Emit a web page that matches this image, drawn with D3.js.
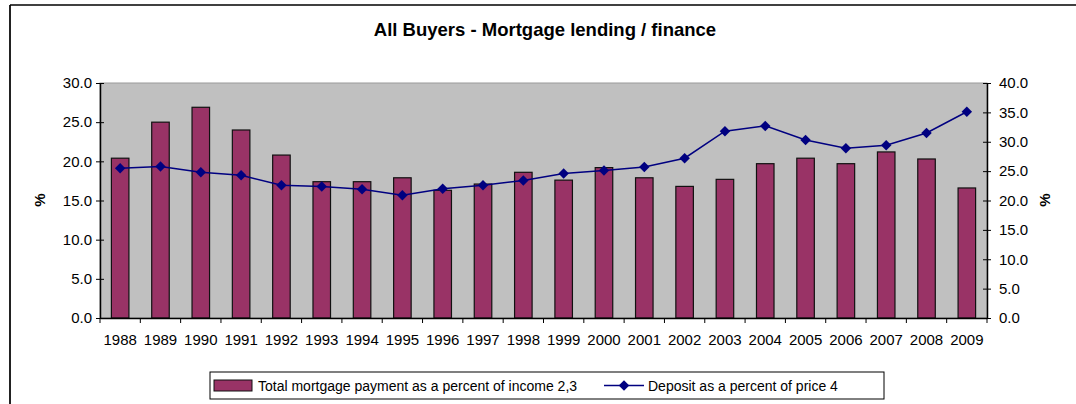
<!DOCTYPE html>
<html>
<head>
<meta charset="utf-8">
<script src="https://cdn.jsdelivr.net/npm/d3@7"></script>
<style>
  body { margin: 0; background: #fff; }
  svg { display: block; font-family: "Liberation Sans", Arial, sans-serif; }
</style>
</head>
<body>
<svg></svg>
<script>
const width = 1076;
const height = 404;

const years = ['1988','1989','1990','1991','1992','1993','1994','1995','1996','1997','1998',
  '1999','2000','2001','2002','2003','2004','2005','2006','2007','2008','2009'];
const mortgagePayment = [20.4, 25.0, 26.9, 24.0, 20.8, 17.4, 17.4, 17.9, 16.3, 17.1, 18.6,
  17.6, 19.2, 17.9, 16.8, 17.7, 19.7, 20.4, 19.7, 21.2, 20.3, 16.6];
const depositPercent = [25.5, 25.8, 24.8, 24.3, 22.6, 22.4, 21.9, 20.9, 22.0, 22.6, 23.4,
  24.6, 25.1, 25.7, 27.2, 31.8, 32.7, 30.3, 28.9, 29.4, 31.5, 35.1];
const leftTicks = [0, 5, 10, 15, 20, 25, 30];
const rightTicks = [0, 5, 10, 15, 20, 25, 30, 35, 40];

const plot = { left: 100, right: 987, top: 83, bottom: 318 };

const svg = d3.select('svg')
  .attr('width', width)
  .attr('height', height);

// outer chart border (left + top visible)
svg.append('line')
  .attr('x1', 10).attr('x2', 10).attr('y1', 5).attr('y2', height)
  .attr('stroke', '#222').attr('stroke-width', 2);
svg.append('line')
  .attr('x1', 10).attr('x2', width).attr('y1', 5).attr('y2', 5)
  .attr('stroke', '#000').attr('stroke-width', 1.5);

// title
svg.append('text')
  .text('All Buyers - Mortgage lending / finance')
  .attr('x', 545)
  .attr('y', 36)
  .attr('text-anchor', 'middle')
  .attr('font-size', '18.5px')
  .attr('font-weight', 'bold');

const xScale = d3.scaleBand()
  .domain(years)
  .range([plot.left, plot.right]);

const yLeft = d3.scaleLinear()
  .domain([0, 30])
  .range([plot.bottom, plot.top]);

const yRight = d3.scaleLinear()
  .domain([0, 40])
  .range([plot.bottom, plot.top]);

// plot area
svg.append('rect')
  .attr('x', plot.left)
  .attr('y', plot.top)
  .attr('width', plot.right - plot.left)
  .attr('height', plot.bottom - plot.top)
  .attr('fill', '#c0c0c0')
  .attr('stroke', '#999')
  .attr('stroke-width', 1);

// bars
const barW = xScale.bandwidth() / 2.3;
svg.selectAll('rect.bar')
  .data(years)
  .enter()
  .append('rect')
  .attr('class', 'bar')
  .attr('x', d => xScale(d) + (xScale.bandwidth() - barW) / 2)
  .attr('y', (d, i) => yLeft(mortgagePayment[i]))
  .attr('width', barW)
  .attr('height', (d, i) => plot.bottom - yLeft(mortgagePayment[i]))
  .attr('fill', '#993366')
  .attr('stroke', '#111')
  .attr('stroke-width', 1.2);

// line
const line = d3.line()
  .x((d, i) => xScale(years[i]) + xScale.bandwidth() / 2)
  .y(d => yRight(d));

svg.append('path')
  .datum(depositPercent)
  .attr('d', line)
  .attr('fill', 'none')
  .attr('stroke', '#000080')
  .attr('stroke-width', 1.5);

const diamond = d3.symbol().type(d3.symbolDiamond2).size(70);
svg.selectAll('path.marker')
  .data(depositPercent)
  .enter()
  .append('path')
  .attr('class', 'marker')
  .attr('d', diamond)
  .attr('transform', (d, i) => `translate(${xScale(years[i]) + xScale.bandwidth() / 2}, ${yRight(d)})`)
  .attr('fill', '#000080');

// ====================================
// Axes
// ====================================
const fmt = d3.format('.1f');

const leftAxis = svg.append('g')
  .attr('transform', `translate(${plot.left}, 0)`)
  .call(d3.axisLeft(yLeft).tickValues(leftTicks).tickFormat(fmt).tickSize(4).tickSizeOuter(0));
leftAxis.selectAll('.tick line').attr('x2', 4).attr('x1', -4);

const rightAxis = svg.append('g')
  .attr('transform', `translate(${plot.right}, 0)`)
  .call(d3.axisRight(yRight).tickValues(rightTicks).tickFormat(fmt).tickSize(4).tickSizeOuter(0));
rightAxis.selectAll('.tick line').attr('x1', -4).attr('x2', 4);

const xAxis = svg.append('g')
  .attr('transform', `translate(0, ${plot.bottom})`)
  .call(d3.axisBottom(xScale).tickSize(0).tickPadding(16));

// boundary tick marks between categories
xAxis.selectAll('line.sep')
  .data(years.concat(['end']))
  .enter()
  .append('line')
  .attr('class', 'sep')
  .attr('x1', (d, i) => i < years.length ? xScale(d) : plot.right)
  .attr('x2', (d, i) => i < years.length ? xScale(d) : plot.right)
  .attr('y1', 0)
  .attr('y2', 5)
  .attr('stroke', '#000');

[leftAxis, rightAxis, xAxis].forEach(g => {
  g.select('.domain').attr('stroke', '#000').attr('stroke-width', 1.5);
  g.selectAll('.tick line').attr('stroke', '#000');
  g.selectAll('text')
    .attr('font-size', '15px')
    .attr('font-family', '"Liberation Sans", Arial, sans-serif')
    .attr('fill', '#000');
});
leftAxis.selectAll('text').attr('x', -8);
rightAxis.selectAll('text').attr('x', 12);

// axis titles
svg.append('text')
  .text('%')
  .attr('transform', 'translate(45, 200) rotate(-90)')
  .attr('text-anchor', 'middle')
  .attr('font-size', '15px')
  .attr('font-weight', 'bold');

svg.append('text')
  .text('%')
  .attr('transform', 'translate(1050, 200) rotate(-90)')
  .attr('text-anchor', 'middle')
  .attr('font-size', '15px')
  .attr('font-weight', 'bold');

// ====================================
// Legend
// ====================================
const legend = svg.append('g');
legend.append('rect')
  .attr('x', 210).attr('y', 372)
  .attr('width', 674).attr('height', 27)
  .attr('fill', '#fff')
  .attr('stroke', '#000')
  .attr('stroke-width', 1);

legend.append('rect')
  .attr('x', 214).attr('y', 380)
  .attr('width', 38).attr('height', 11)
  .attr('fill', '#993366')
  .attr('stroke', '#111');

legend.append('text')
  .text('Total mortgage payment as a percent of income 2,3')
  .attr('x', 258).attr('y', 391)
  .attr('font-size', '14px');

legend.append('line')
  .attr('x1', 604).attr('x2', 644).attr('y1', 385.5).attr('y2', 385.5)
  .attr('stroke', '#000080').attr('stroke-width', 1.5);
legend.append('path')
  .attr('d', diamond)
  .attr('transform', 'translate(624, 385.5)')
  .attr('fill', '#000080');

legend.append('text')
  .text('Deposit as a percent of price 4')
  .attr('x', 648).attr('y', 391)
  .attr('font-size', '14px');
</script>
</body>
</html>
